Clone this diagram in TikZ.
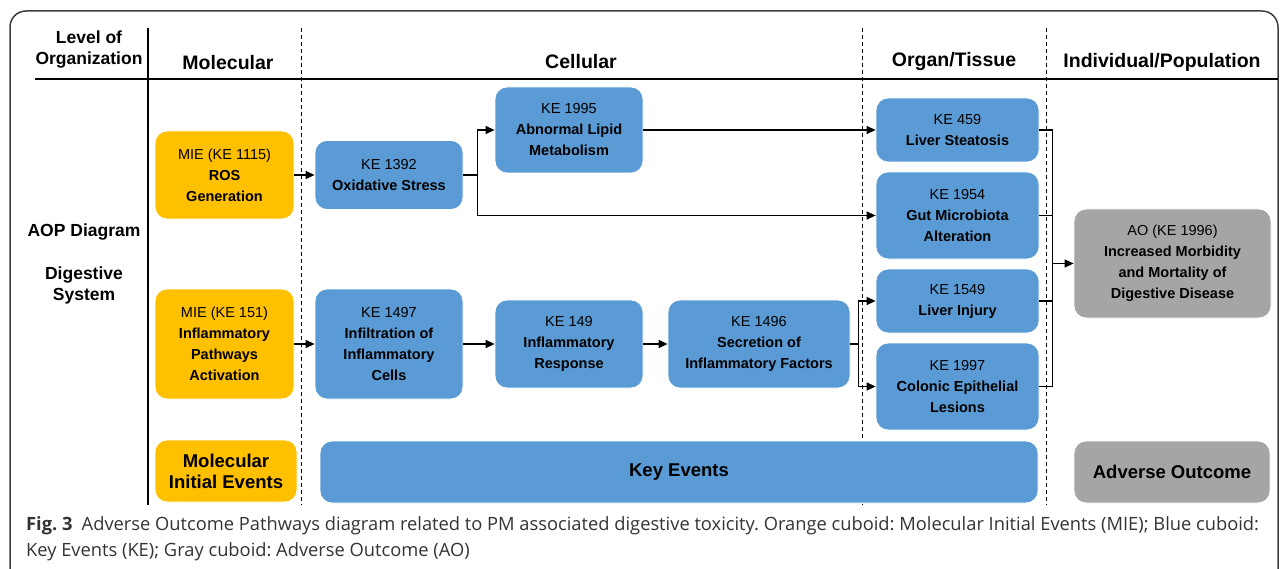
\documentclass[tikz,border=0pt]{standalone}
\usepackage{fontspec}
\setmainfont{Liberation Sans}
\newfontfamily\capfont{Open Sans}
\usetikzlibrary{arrows.meta}
\definecolor{mieorange}{HTML}{FFC000}
\definecolor{keblue}{HTML}{5B9BD5}
\definecolor{aogray}{HTML}{A5A5A5}
\begin{document}
\frenchspacing
\begin{tikzpicture}[x=1pt,y=-1pt,
  evbox/.style={rectangle, rounded corners=12pt, inner sep=0pt, align=center,
    font=\fontsize{14.5}{21}\selectfont, draw=white, line width=0.8pt},
  mie/.style={evbox, fill=mieorange},
  ke/.style={evbox, fill=keblue},
  ao/.style={evbox, fill=aogray},
  legend/.style={font=\bfseries\fontsize{18.5}{21}\selectfont},
  hdr/.style={font=\bfseries\fontsize{19.5}{22}\selectfont, inner sep=0pt, align=center},
  side/.style={font=\bfseries\fontsize{17.5}{21}\selectfont, inner sep=0pt, align=center},
  conn/.style={line width=1.3pt, -{Triangle[length=9pt,width=8pt]}},
  wire/.style={line width=1.3pt},
  sep/.style={line width=1pt, dash pattern=on 4pt off 3pt},
  capstyle/.style={anchor=base west, inner sep=0pt, text=black!80,
    font=\capfont\fontsize{18.3}{26}\selectfont},
]
\useasboundingbox (0,0) rectangle (1281,569);

% outer frame
\draw[line width=1.5pt, black!75, rounded corners=16pt]
  (10,600) -- (10,11) -- (1278,11) -- (1278,600);

% grid of organisation levels
\draw[line width=2pt] (35,79) -- (1278,79);
\draw[line width=2pt] (148,28) -- (148,505);
\foreach \xx in {301,862,1046}
  \draw[sep] (\xx,28) -- (\xx,505);

% column and row headings
\node[side] (lvl) at (89,50) {Level of\\Organization};
\node[hdr] (hmol) at (228,63) {Molecular};
\node[hdr] (hcel) at (581,62) {Cellular};
\node[hdr] (horg) at (954,62) {Organ/Tissue};
\node[hdr] (hind) at (1162,62) {Individual/Population};
\node[side] (aop) at (84,232) {AOP Diagram};
\node[side] (dig) at (84,285) {Digestive\\System};

% event boxes
\node[mie, minimum width=139pt, minimum height=88pt] (mie1) at (224.5,175)
  {MIE (KE 1115)\\\textbf{ROS}\\\textbf{Generation}};
\node[ke, minimum width=148pt, minimum height=69pt] (k1392) at (389,175)
  {KE 1392\\\textbf{Oxidative Stress}};
\node[ke, minimum width=148pt, minimum height=86pt] (k1995) at (569,130)
  {KE 1995\\\textbf{Abnormal Lipid}\\\textbf{Metabolism}};
\node[ke, minimum width=163pt, minimum height=64pt] (k459) at (957.5,130)
  {KE 459\\\textbf{Liver Steatosis}};
\node[ke, minimum width=163pt, minimum height=87pt] (k1954) at (957.5,215.5)
  {KE 1954\\\textbf{Gut Microbiota}\\\textbf{Alteration}};
\node[ke, minimum width=163pt, minimum height=64pt] (k1549) at (957.5,301)
  {KE 1549\\\textbf{Liver Injury}};
\node[ke, minimum width=163pt, minimum height=87pt] (k1997) at (957.5,386.5)
  {KE 1997\\\textbf{Colonic Epithelial}\\\textbf{Lesions}};
\node[ao, minimum width=197pt, minimum height=109pt] (ao) at (1172.5,263.5)
  {AO (KE 1996)\\\textbf{Increased Morbidity}\\\textbf{and Mortality of}\\\textbf{Digestive Disease}};
\node[mie, minimum width=139pt, minimum height=110pt] (mie2) at (224.5,344)
  {MIE (KE 151)\\\textbf{Inflammatory}\\\textbf{Pathways}\\\textbf{Activation}};
\node[ke, minimum width=148pt, minimum height=110pt] (k1497) at (389,344)
  {KE 1497\\\textbf{Infiltration of}\\\textbf{Inflammatory}\\\textbf{Cells}};
\node[ke, minimum width=148pt, minimum height=88pt] (k149) at (569,344)
  {KE 149\\\textbf{Inflammatory}\\\textbf{Response}};
\node[ke, minimum width=182pt, minimum height=88pt] (k1496) at (759,344)
  {KE 1496\\\textbf{Secretion of}\\\textbf{Inflammatory Factors}};

% legend row
\node[mie, legend, minimum width=142pt, minimum height=62pt] (legmie) at (226,471)
  {Molecular\\Initial Events};
\node[ke, legend, minimum width=718pt, minimum height=62pt] (legke) at (679,472)
  {Key Events};
\node[ao, legend, minimum width=196pt, minimum height=62pt] (legao) at (1172,472)
  {Adverse Outcome};

% connectors
\draw[conn] (mie1.east) -- (k1392.west);
\draw[conn] (k1392.east) -- ++(14,0) |- (k1995.west);
\draw[conn] (k1392.east) -- ++(14,0) |- (k1954.west);
\draw[conn] (k1995.east) -- (k459.west);
\draw[conn] (mie2.east) -- (k1497.west);
\draw[conn] (k1497.east) -- (k149.west);
\draw[conn] (k149.east) -- (k1496.west);
\draw[conn] (k1496.east) -- ++(8,0) |- (k1549.west);
\draw[conn] (k1496.east) -- ++(8,0) |- (k1997.west);

\coordinate (bus) at (1052,263.5);
\draw[wire] (k459.east) -- ++(13,0) |- (k1997.east);
\draw[wire] (k1954.east) -- ++(13,0);
\draw[wire] (k1549.east) -- ++(13,0);
\draw[conn] (bus) -- (ao.west);

% caption
\node[capstyle] (cap1) at (26,530)
  {\textbf{Fig. 3}\enspace Adverse Outcome Pathways diagram related to PM associated digestive toxicity. Orange cuboid: Molecular Initial Events (MIE); Blue cuboid:};
\node[capstyle] (cap2) at (26,556)
  {Key Events (KE); Gray cuboid: Adverse Outcome (AO)};
\end{tikzpicture}
\end{document}
